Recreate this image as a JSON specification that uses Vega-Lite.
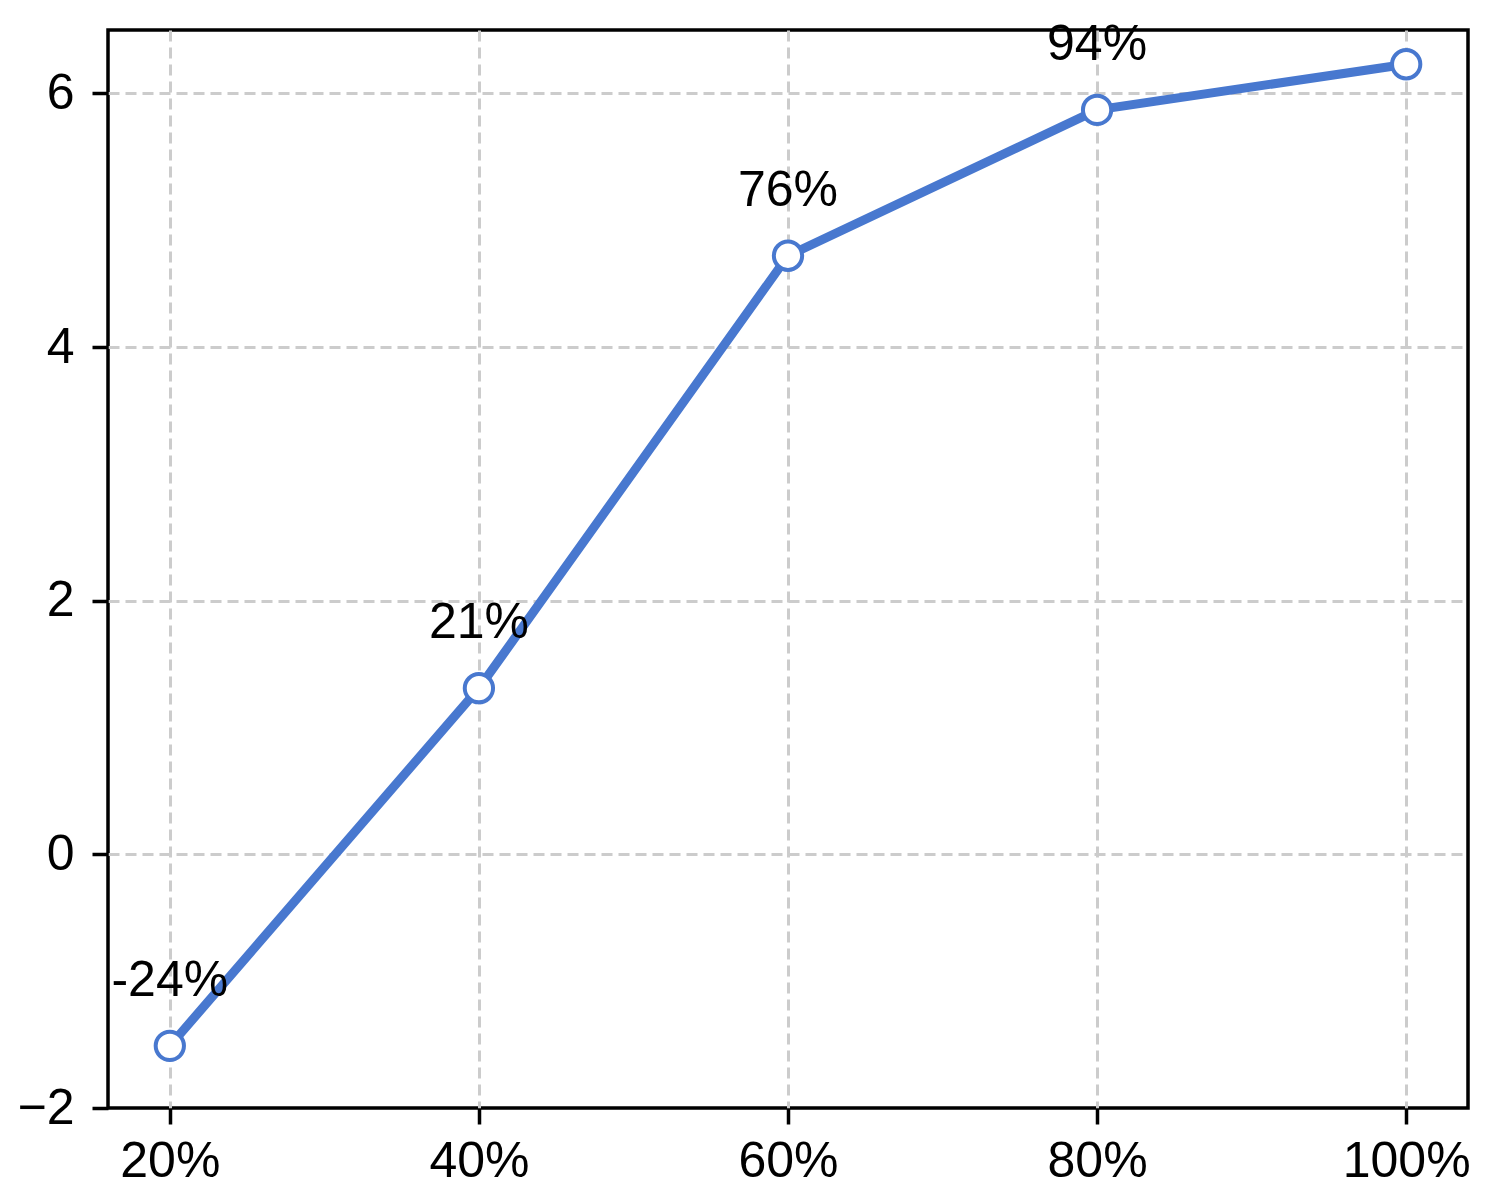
{
  "$schema": "https://vega.github.io/schema/vega-lite/v6.json",
  "width": 1360,
  "height": 1078,
  "autosize": "none",
  "padding": {"left": 108, "top": 30, "right": 28, "bottom": 96},
  "background": "white",
  "config": {
    "font": "Liberation Sans",
    "view": {"stroke": "black", "strokeWidth": 3.5},
    "axis": {
      "labelFont": "Liberation Sans",
      "labelFontSize": 50,
      "labelColor": "black",
      "domain": false,
      "tickColor": "black",
      "tickWidth": 3.5,
      "tickSize": 16,
      "grid": true,
      "gridColor": "#cccccc",
      "gridDash": [11, 6],
      "gridWidth": 3,
      "title": null
    }
  },
  "data": {
    "values": [
      {"pct": 20, "value": -1.51, "label": "-24%"},
      {"pct": 40, "value": 1.31, "label": "21%"},
      {"pct": 60, "value": 4.72, "label": "76%"},
      {"pct": 80, "value": 5.87, "label": "94%"},
      {"pct": 100, "value": 6.23, "label": ""}
    ]
  },
  "encoding": {
    "x": {
      "field": "pct",
      "type": "quantitative",
      "scale": {"domain": [16, 104], "nice": false, "zero": false},
      "axis": {"values": [20, 40, 60, 80, 100], "labelExpr": "datum.value + '%'", "labelPadding": 12, "labelFlush": false}
    },
    "y": {
      "field": "value",
      "type": "quantitative",
      "scale": {"domain": [-2, 6.5], "nice": false, "zero": false},
      "axis": {
        "values": [-2, 0, 2, 4, 6],
        "labelPadding": 18,
        "labelFlush": false,
        "format": "d",
        "gridOpacity": {"condition": {"test": "datum.value == -2", "value": 0}, "value": 1}
      }
    }
  },
  "layer": [
    {
      "mark": {"type": "line", "color": "#4878CF", "strokeWidth": 9}
    },
    {
      "mark": {"type": "point", "shape": "circle", "filled": true, "fill": "white", "stroke": "#4878CF", "strokeWidth": 4, "size": 800, "opacity": 1}
    },
    {
      "mark": {"type": "text", "fontSize": 50, "color": "black", "align": "center", "baseline": "alphabetic", "dy": -50},
      "encoding": {"text": {"field": "label"}}
    }
  ]
}
